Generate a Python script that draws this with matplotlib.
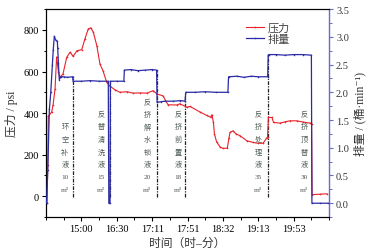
import matplotlib
matplotlib.use('Agg')
import matplotlib.pyplot as plt
from matplotlib.ticker import MultipleLocator

plt.rcParams['font.family'] = ['Liberation Serif', 'Noto Sans CJK SC', 'DejaVu Sans']
plt.rcParams['axes.unicode_minus'] = False

# x in tick units: every 2 units one labelled time
tick_pos = [2, 4, 6, 8, 10, 12, 14]
tick_labels = ['15:00', '16:30', '17:11', '17:51', '18:32', '19:13', '19:53']

# pressure (psi), left axis
press_x = [0.06, 0.10, 0.13, 0.32, 0.40, 0.51, 0.60, 0.70, 0.79, 0.96, 1.17, 1.36, 1.53, 1.75,
           2.02, 2.20, 2.39, 2.53, 2.67, 2.87, 3.05, 3.22, 3.43, 3.62, 3.90, 4.18, 4.58, 4.92,
           5.31, 5.71, 6.05, 6.27, 6.61, 6.90, 7.40, 7.57, 7.97, 8.14, 8.71, 9.08, 9.30, 9.38,
           9.46, 9.52, 9.64, 9.84, 10.02, 10.25, 10.34, 10.40, 10.57, 10.74, 10.97, 11.35,
           11.70, 11.98, 12.27, 12.47, 12.52, 12.57, 12.77, 12.86, 13.23, 13.51, 13.79, 14.17,
           14.53, 14.92, 15.01, 15.04, 15.49, 15.88]
press_y = [-30, 150, 385, 405, 440, 515, 670, 600, 573, 588, 668, 693, 673, 700,
           705, 757, 805, 810, 790, 725, 636, 604, 548, 529, 512, 500, 503, 496,
           497, 496, 508, 492, 483, 440, 439, 445, 428, 432, 405, 389, 380, 392,
           357, 300, 262, 237, 230, 232, 280, 307, 315, 300, 291, 267,
           259, 255, 255, 280, 284, 379, 379, 355, 352, 358, 363, 363,
           357, 352, 350, 8, 10, 12]

# rate (bbl/min), right axis
rate_x = [0.03, 0.10, 0.19, 0.27, 0.36, 0.41, 0.47, 0.55, 0.64, 0.66, 0.70, 0.75, 0.83, 1.0,
          1.2, 1.50, 1.53, 2.0, 2.5, 3.0, 3.52, 3.55, 3.62, 3.64, 4.0, 4.40, 4.43, 4.8, 5.2,
          5.6, 6.0, 6.25, 6.28, 6.5, 6.73, 7.2, 7.6, 7.86, 7.90, 8.4, 9.0, 9.6, 10.28, 10.32,
          10.8, 11.2, 11.6, 12.0, 12.53, 12.56, 12.6, 13.0, 13.5, 14.0, 14.5, 15.0, 15.03,
          15.5, 15.94]
rate_y = [0.0, 0.6, 1.69, 2.0, 2.5, 2.77, 3.01, 2.94, 2.92, 2.80, 2.53, 2.23, 2.28, 2.28,
          2.27, 2.28, 2.20, 2.20, 2.21, 2.20, 2.20, 0.0, 0.0, 2.20, 2.20, 2.20, 2.40, 2.41, 2.39,
          2.40, 2.41, 2.40, 1.82, 1.83, 1.84, 1.84, 1.85, 1.84, 2.0, 2.0, 2.01, 2.0, 2.0, 2.28,
          2.29, 2.27, 2.29, 2.28, 2.28, 2.67, 2.68, 2.68, 2.67, 2.68, 2.68, 2.67, 0.0,
          0.0, 0.0]

# stage boundaries (dash-dot lines) and labels
stage_x = [1.53, 3.62, 6.27, 7.86, 12.55]
stage_top = [578, 560, 607, 501, 680]
label_x = [1.07, 3.11, 5.71, 7.46, 11.98, 14.58]
label_text = [
    ['环', '空', '补', '液', '10', 'm³'],
    ['反', '替', '清', '洗', '液', '15', 'm³'],
    ['反', '挤', '解', '水', '锁', '液', '20', 'm³'],
    ['反', '挤', '前', '置', '液', '18', 'm³'],
    ['反', '挤', '处', '理', '液', '35', 'm³'],
    ['反', '挤', '顶', '替', '液', '30', 'm³'],
]

fig = plt.figure(figsize=(3.71, 2.53), dpi=100)
ax = fig.add_axes([0.124, 0.138, 0.763, 0.822])
ax2 = ax.twinx()

red = '#e8222a'
blue = '#2b2ba6'

for sx, st in zip(stage_x, stage_top):
    ax.plot([sx, sx], [-5, st], color='#222222', lw=0.9, ls=(0, (3, 1, 1, 1)), zorder=1)

l1, = ax.plot(press_x, press_y, color=red, lw=0.8, marker='o', ms=1.2, mew=0, zorder=3)
l2, = ax2.plot(rate_x, rate_y, color=blue, lw=0.9, marker='s', ms=1.0, mew=0, zorder=3)

for lx, chars in zip(label_x, label_text):
    n = len(chars)
    for k, ch in enumerate(chars):
        ax.annotate(ch, xy=(lx, 35), xytext=(0, (n - 1 - k) * 9.1), textcoords='offset points',
                    ha='center', va='center', fontsize=5.2, color='#4d5a50')

ax.set_xlim(0, 16)
ax.set_ylim(-100, 900)
ax2.set_ylim(-0.25, 3.5)

ax.set_xticks(tick_pos)
ax.set_xticklabels(tick_labels)
ax.xaxis.set_minor_locator(MultipleLocator(1))
ax.set_yticks([0, 200, 400, 600, 800])
ax.yaxis.set_minor_locator(MultipleLocator(100))
ax2.set_yticks([0.0, 0.5, 1.0, 1.5, 2.0, 2.5, 3.0, 3.5])
ax2.set_yticklabels(['0.0', '0.5', '1.0', '1.5', '2.0', '2.5', '3.0', '3.5'])
ax2.yaxis.set_minor_locator(MultipleLocator(0.25))

for a in (ax, ax2):
    a.tick_params(which='major', direction='out', length=3, width=0.8, labelsize=7.5, pad=2)
    a.tick_params(which='minor', direction='out', length=1.8, width=0.7)

sc = '#6a6ac8'
ax2.spines['right'].set_color(sc)
ax2.spines['right'].set_linewidth(1.0)
ax2.tick_params(axis='y', which='both', colors=sc, labelcolor='#333333')
ax.spines['right'].set_visible(False)

ax.set_ylabel('压力 / psi', fontsize=8.5, color='#333333', labelpad=4)
ax2.set_ylabel('排量 / (桶·min⁻¹)', fontsize=8.5, color='#333333', labelpad=3)
ax.set_xlabel('时间（时–分）', fontsize=8.5, color='#333333', labelpad=3)

ax.legend([l1, l2], ['压力', '排量'], loc='upper left', bbox_to_anchor=(0.68, 0.975),
          frameon=False, fontsize=8, handlelength=1.6, handletextpad=0.3,
          labelspacing=0.1, borderpad=0.2, labelcolor='#444444')

fig.savefig('out.png', dpi=100)
